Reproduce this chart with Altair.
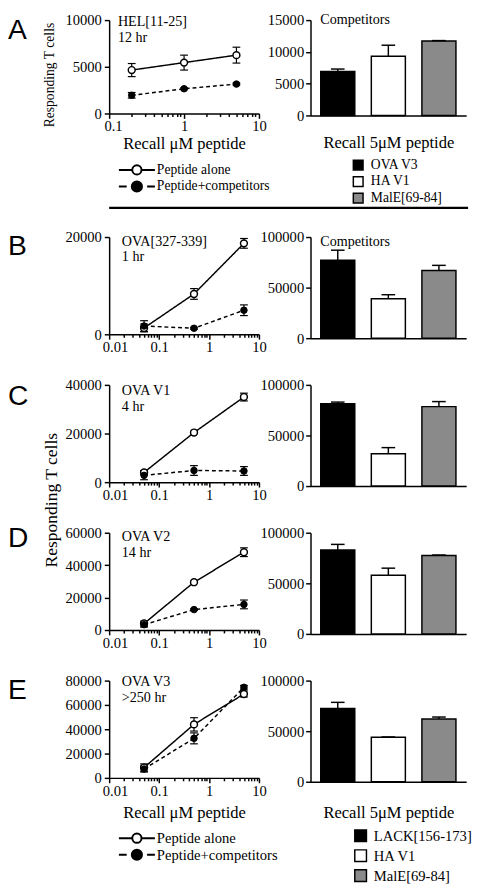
import altair as alt
import pandas as pd

FONT = "Liberation Serif"
SERIES = ["Peptide alone", "Peptide+competitors"]
BAR_COLORS = ["#000000", "#ffffff", "#8a8a8a"]

# ---------------- data ----------------
A_dose = [0.2, 1, 5]
A_alone = [4650, 5450, 6250]
A_alone_sem = [700, 800, 850]
A_comp = [1950, 2650, 3150]
A_comp_sem = [300, 100, 100]
A_names = ["OVA V3", "HA V1", "MalE[69-84]"]
A_bar = [6900, 9300, 11700]
A_bar_sem = [400, 1750, 80]

dose = [0.05, 0.5, 5]
names = ["LACK[156-173]", "HA V1", "MalE[69-84]"]

B_alone = [1300, 8300, 18700]
B_alone_sem = [800, 1100, 1000]
B_comp = [1700, 1250, 4950]
B_comp_sem = [1100, 200, 1100]
B_bar = [77000, 39000, 67000]
B_bar_sem = [10000, 4000, 5000]

C_alone = [4000, 20400, 35000]
C_alone_sem = [800, 500, 1600]
C_comp = [2800, 4800, 4600]
C_comp_sem = [1800, 2000, 1800]
C_bar = [81500, 32000, 78500]
C_bar_sem = [1500, 6000, 5000]

D_alone = [4000, 29500, 48000]
D_alone_sem = [1500, 600, 2700]
D_comp = [3300, 12600, 15800]
D_comp_sem = [1500, 500, 2700]
D_bar = [83000, 58000, 77500]
D_bar_sem = [5500, 7000, 500]

E_alone = [8500, 44000, 69000]
E_alone_sem = [3000, 5500, 2500]
E_comp = [7300, 32500, 74500]
E_comp_sem = [2500, 4500, 1500]
E_bar = [72500, 44000, 62000]
E_bar_sem = [6000, 300, 2000]

one = pd.DataFrame({"k": [0]})


def label(text, x, y, size=15, font=FONT, align="left", baseline="alphabetic"):
    return alt.Chart(one).mark_text(font=font, fontSize=size, align=align, baseline=baseline,
                                    color="black").encode(
        x=alt.value(x), y=alt.value(y), text=alt.value(text))


def log_axis(decades, title=None, titleY=None, first_shift=6):
    minors = []
    for d in decades[:-1]:
        for m in range(2, 10):
            minors.append(round(d * m, 6))
    vals = sorted(decades + minors)
    test = " || ".join(f"datum.value == {d}" for d in decades)
    kw = dict(values=vals, format="~g", labelExpr=f"({test}) ? datum.label : ''",
              tickSize={"condition": {"test": test, "value": 5}, "value": 3},
              labelOffset={"condition": {"test": f"datum.value == {decades[0]}", "value": first_shift},
                           "value": 0},
              labelOverlap=False, labelFlush=False, labelPadding=1)
    if title:
        kw.update(title=title, titleFontSize=17, titleY=titleY, titleBaseline="alphabetic")
    else:
        kw.update(title=None)
    return alt.Axis(**kw)


def line_panel(p):
    rows = []
    for s, m, e in [(SERIES[0], p["alone"], p["alone_sem"]), (SERIES[1], p["comp"], p["comp_sem"])]:
        for d, v, se in zip(p["dose"], m, e):
            rows.append({"dose": d, "resp": v, "lo": v - se, "hi": v + se, "series": s})
    df = pd.DataFrame(rows)
    xs = alt.Scale(type="log", domain=[p["decades"][0], p["decades"][-1]], nice=False)
    ys = alt.Scale(domain=[0, p["ymax"]], nice=False)
    xax = log_axis(p["decades"], p.get("xtitle"), p.get("xtitleY"), p.get("shift", 6))
    ykw = dict(values=p["yvals"], format="d", labelPadding=3, title=None)
    if p.get("ytitle"):
        yt = p["ytitle"]
        ykw.update(title="Responding T cells", titleFontSize=yt[0], titleX=yt[1], titleY=yt[2],
                   titleAngle=270, titleBaseline="middle", titleAlign="center")
    yax = alt.Axis(**ykw)
    X = alt.X("dose:Q", scale=xs, axis=xax)

    def Y(f):
        return alt.Y(f"{f}:Q", scale=ys, axis=yax)

    base = alt.Chart(df)
    err = base.mark_rule(color="black", strokeWidth=1.2).encode(x=X, y=Y("lo"), y2="hi:Q")
    cap_hi = base.mark_tick(color="black", thickness=1.2, size=8, orient="horizontal", opacity=1).encode(
        x=X, y=Y("hi"))
    cap_lo = base.mark_tick(color="black", thickness=1.2, size=8, orient="horizontal", opacity=1).encode(
        x=X, y=Y("lo"))
    line = base.mark_line(color="black", strokeWidth=1.5).encode(
        x=X, y=Y("resp"),
        strokeDash=alt.StrokeDash("series:N", scale=alt.Scale(domain=SERIES, range=[[1, 0], [4, 3]]), legend=None))
    p_open = base.transform_filter(alt.datum.series == SERIES[0]).mark_point(
        shape="circle", filled=True, fill="white", stroke="black", strokeWidth=1.5, size=50, opacity=1).encode(
        x=X, y=Y("resp"))
    p_fill = base.transform_filter(alt.datum.series == SERIES[1]).mark_point(
        shape="circle", filled=True, fill="black", stroke="black", strokeWidth=1, size=45, opacity=1).encode(
        x=X, y=Y("resp"))
    l1, l2 = p["annot"]
    layers = [err, cap_hi, cap_lo, line, p_open, p_fill,
              label(l1, p["ax"], p["ay"], size=14.5), label(l2, p["ax"], p["ay"] + p["lh"], size=14.5),
              label(p["letter"], -104, p["letter_y"], size=29, font="Liberation Sans")]
    if p.get("legend"):
        y1, y2, fs = p["legend"]
        for s, yy, dash, fill, sz in [(SERIES[0], y1, [1, 0], "white", 90), (SERIES[1], y2, [8, 21], "black", 110)]:
            layers.append(alt.Chart(one).mark_rule(color="black", strokeWidth=2, strokeDash=dash).encode(
                x=alt.value(10), x2=alt.value(47), y=alt.value(yy)))
            layers.append(alt.Chart(one).mark_point(shape="circle", filled=True, fill=fill, stroke="black",
                                                    strokeWidth=2, size=sz, opacity=1).encode(
                x=alt.value(28.5), y=alt.value(yy)))
            layers.append(label(s, 49, yy, size=fs, baseline="middle"))
    if p.get("separator"):
        layers.append(alt.Chart(one).mark_rule(color="black", strokeWidth=2.5).encode(
            x=alt.value(0), x2=alt.value(369), y=alt.value(p["separator"])))
    return alt.layer(*layers).properties(width=154, height=p["h"])


def bar_panel(p):
    nm = p["names"]
    df = pd.DataFrame({"comp": nm, "val": p["vals"],
                       "hi": [v + s for v, s in zip(p["vals"], p["sems"])]})
    xs = alt.Scale(domain=nm, paddingInner=0.327, paddingOuter=0.202)
    ys = alt.Scale(domain=[0, p["ymax"]], nice=False)
    xkw = dict(labels=False, ticks=False, title=None)
    if p.get("xtitleY"):
        xkw.update(title="Recall 5\u03bcM peptide", titleFontSize=17, titleY=p["xtitleY"],
                   titleBaseline="alphabetic")
    xax = alt.Axis(**xkw)
    yax = alt.Axis(values=p["yvals"], format="d", labelPadding=2, title=None)
    if p.get("legend"):
        lx, ly, ss, fs, rp = p["legend"]
        leg = alt.Legend(title=None, orient="none", legendX=lx, legendY=ly, symbolType="square",
                         symbolSize=ss, symbolStrokeColor="black", symbolStrokeWidth=1.5,
                         labelFont=FONT, labelFontSize=fs, labelColor="black", rowPadding=rp,
                         labelOffset=6, padding=0)
    else:
        leg = None
    base = alt.Chart(df)
    X = alt.X("comp:N", scale=xs, axis=xax, sort=nm)

    def Y(f):
        return alt.Y(f"{f}:Q", scale=ys, axis=yax)

    bars = base.mark_bar(stroke="black", strokeWidth=1.5).encode(
        x=X, y=Y("val"),
        fill=alt.Fill("comp:N", scale=alt.Scale(domain=nm, range=BAR_COLORS), legend=leg))
    err = base.mark_rule(color="black", strokeWidth=1.5).encode(x=X, y=Y("val"), y2="hi:Q")
    cap = base.mark_tick(color="black", thickness=1.5, size=14, orient="horizontal", opacity=1).encode(
        x=X, y=Y("hi"))
    layers = [bars, err, cap]
    if p.get("annot"):
        layers.append(label("Competitors", 10, p["annot"], size=14.5))
    return alt.layer(*layers).properties(width=160, height=p["h"])


dec2 = [0.1, 1, 10]
dec3 = [0.01, 0.1, 1, 10]

lineA = line_panel(dict(dose=A_dose, alone=A_alone, alone_sem=A_alone_sem, comp=A_comp, comp_sem=A_comp_sem,
                        decades=dec2, ymax=10000, yvals=[0, 5000, 10000], h=96, shift=4,
                        annot=["HEL[11-25]", "12 hr"], ax=9, ay=6, lh=16.5, letter="A", letter_y=19,
                        xtitle="Recall \u03bcM peptide", xtitleY=36, ytitle=(14, -61, 56),
                        legend=(154, 171, 14), separator=193))
barA = bar_panel(dict(names=A_names, vals=A_bar, sems=A_bar_sem, ymax=15000,
                      yvals=[0, 5000, 10000, 15000], h=98, xtitleY=33, annot=4,
                      legend=(42, 142, 100, 14, 1)))

spL = alt.Chart(one).mark_point(opacity=0).encode(x=alt.value(0), y=alt.value(0)).properties(width=154, height=28.5)
spR = alt.Chart(one).mark_point(opacity=0).encode(x=alt.value(0), y=alt.value(0)).properties(width=160, height=28.5)

lineB = line_panel(dict(dose=dose, alone=B_alone, alone_sem=B_alone_sem, comp=B_comp, comp_sem=B_comp_sem,
                        decades=dec3, ymax=20000, yvals=[0, 20000], h=100,
                        annot=["OVA[327-339]", "1 hr"], ax=13, ay=9, lh=16, letter="B", letter_y=18))
barB = bar_panel(dict(names=names, vals=B_bar, sems=B_bar_sem, ymax=100000,
                      yvals=[0, 50000, 100000], h=104, annot=9))

lineC = line_panel(dict(dose=dose, alone=C_alone, alone_sem=C_alone_sem, comp=C_comp, comp_sem=C_comp_sem,
                        decades=dec3, ymax=40000, yvals=[0, 20000, 40000], h=100,
                        annot=["OVA V1", "4 hr"], ax=13, ay=10, lh=16.5, letter="C", letter_y=21))
barC = bar_panel(dict(names=names, vals=C_bar, sems=C_bar_sem, ymax=100000,
                      yvals=[0, 50000, 100000], h=104))

lineD = line_panel(dict(dose=dose, alone=D_alone, alone_sem=D_alone_sem, comp=D_comp, comp_sem=D_comp_sem,
                        decades=dec3, ymax=60000, yvals=[0, 20000, 40000, 60000], h=100,
                        annot=["OVA V2", "14 hr"], ax=13, ay=8, lh=16.5, letter="D", letter_y=15,
                        ytitle=(18, -59, -34)))
barD = bar_panel(dict(names=names, vals=D_bar, sems=D_bar_sem, ymax=100000,
                      yvals=[0, 50000, 100000], h=104))

lineE = line_panel(dict(dose=dose, alone=E_alone, alone_sem=E_alone_sem, comp=E_comp, comp_sem=E_comp_sem,
                        decades=dec3, ymax=80000, yvals=[0, 20000, 40000, 60000, 80000], h=100,
                        annot=["OVA V3", ">250 hr"], ax=13, ay=6, lh=16, letter="E", letter_y=19,
                        xtitle="Recall \u03bcM peptide", xtitleY=41, legend=(162, 179, 15)))
barE = bar_panel(dict(names=names, vals=E_bar, sems=E_bar_sem, ymax=100000,
                      yvals=[0, 50000, 100000], h=104, xtitleY=37,
                      legend=(44, 152, 144, 15, 1.5)))

chart = alt.concat(lineA, barA, spL, spR, lineB, barB, lineC, barC, lineD, barD, lineE, barE,
                   columns=2, spacing={"row": 48, "column": 53}, bounds="flush", align="each"
                   ).resolve_scale(fill="independent", strokeDash="independent"
                   ).resolve_legend(fill="independent", strokeDash="independent"
                   ).properties(padding={"top": -8, "left": 0, "right": 0, "bottom": 0}
                   ).configure_view(stroke=None).configure_axis(
    labelFont=FONT, titleFont=FONT, labelFontSize=15, labelColor="black", titleColor="black",
    domainColor="black", tickColor="black", domainWidth=1.5, tickWidth=1.5, grid=False,
    titleFontWeight="normal")

chart.save("out.html", embed_options={"renderer": "svg", "actions": False})
